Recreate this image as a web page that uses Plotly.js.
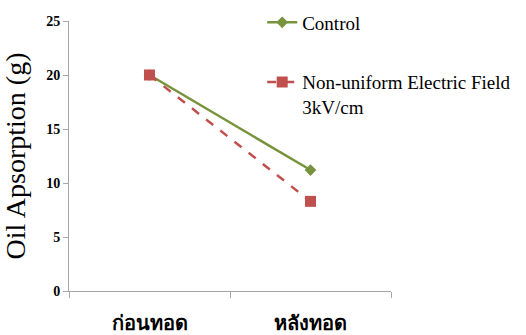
<!DOCTYPE html>
<html><head><meta charset="utf-8">
<script src="https://cdn.plot.ly/plotly-3.0.1.min.js"></script>
<style>body{margin:0;background:#fff}#c{width:526px;height:335px}</style>
</head><body><div id="c"></div>
<script>
const categories = ["ก่อนทอด", "หลังทอด"];
const controlValues = [20, 11.2];
const fieldValues = [20, 8.3];
const seriesNames = ["Control", "Non-uniform Electric Field<br>3kV/cm"];

const traces = [
  {x: categories, y: controlValues, name: seriesNames[0], legendgroup: 'a', type: 'scatter', mode: 'lines+markers',
   line: {color: '#77933C', width: 2.5}, marker: {symbol: 'diamond', size: 9, color: '#77933C'}},
  {x: categories, y: fieldValues, name: seriesNames[1], legendgroup: 'b', type: 'scatter', mode: 'lines+markers',
   line: {color: '#C0504D', width: 2.5, dash: 'dash'}, marker: {symbol: 'square', size: 11, color: '#C0504D'}}
];
const layout = {
  width: 526, height: 335,
  margin: {l: 69, r: 135, t: 21, b: 44, autoexpand: false},
  paper_bgcolor: '#fff', plot_bgcolor: '#fff',
  showlegend: true,
  legend: {x: 0.6, y: 1.065, xanchor: 'left', yanchor: 'top', font: {family: 'Liberation Serif', size: 19, color: '#000'},
           tracegroupgap: 32, itemwidth: 30, valign: 'top'},
  xaxis: {type: 'category', range: [-0.5, 1.5], showgrid: false, showline: true, linecolor: '#A6A6A6', linewidth: 1,
          ticks: 'outside', tickson: 'boundaries', ticklen: 6, tickcolor: '#A6A6A6', ticklabelstandoff: 14,
          tickfont: {family: 'Noto Sans, DejaVu Sans', size: 20, color: '#000', weight: 'bold'}, zeroline: false},
  yaxis: {range: [0, 25], dtick: 5, showgrid: false, showline: true, linecolor: '#A6A6A6', linewidth: 1,
          ticks: 'outside', ticklen: 5, tickcolor: '#A6A6A6', zeroline: false,
          tickfont: {family: 'Liberation Serif', size: 14, color: '#000', weight: 'bold'},
          title: {text: 'Oil Apsorption (g)', font: {family: 'Liberation Serif', size: 28, color: '#000'}, standoff: 12}}
};
Plotly.newPlot('c', traces, layout, {displayModeBar: false, staticPlot: true});
</script></body></html>
